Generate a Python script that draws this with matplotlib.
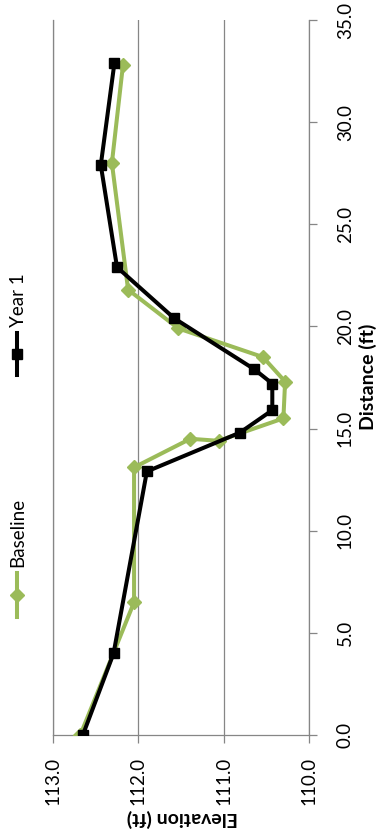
import matplotlib
matplotlib.use("Agg")
import matplotlib.pyplot as plt
from matplotlib.lines import Line2D

plt.rcParams['font.family'] = ['Lato', 'DejaVu Sans']

# Data (distance ft, elevation ft)
baseline_dist = [0.0, 6.5, 13.1, 14.5, 14.4, 15.5, 17.3, 18.5, 19.9, 21.8, 28.0, 32.8]
baseline_elev = [112.68, 112.05, 112.05, 111.39, 111.06, 110.30, 110.28, 110.54, 111.53, 112.12, 112.31, 112.18]
year1_dist = [0.0, 4.0, 12.9, 14.8, 15.9, 17.2, 17.9, 20.4, 22.9, 27.9, 32.9]
year1_elev = [112.65, 112.29, 111.90, 110.81, 110.43, 110.43, 110.64, 111.58, 112.25, 112.44, 112.28]
series_names = ["Baseline", "Year 1"]
dist_ticks = [0, 5, 10, 15, 20, 25, 30, 35]
elev_ticks = [113, 112, 111, 110]

GREEN = "#9BBB59"
GRID = "#868686"
W, H = 380, 840

fig = plt.figure(figsize=(W / 100, H / 100), dpi=100)
ax = fig.add_axes([53 / W, 105 / H, 256 / W, 715 / H])

ax.plot(baseline_elev, baseline_dist, color=GREEN, lw=2.9, marker='D', ms=6.8,
        mec=GREEN, mfc=GREEN, zorder=3, solid_joinstyle='round')
ax.plot(year1_elev, year1_dist, color='black', lw=2.9, marker='s', ms=7.6,
        mec='black', mfc='black', zorder=4, solid_joinstyle='round')

ax.set_xlim(113, 110)
ax.set_ylim(0, 35)
ax.set_xticks(elev_ticks)
ax.set_xticklabels([f"{v:.1f}" for v in elev_ticks])
ax.set_yticks(dist_ticks)
ax.set_yticklabels([f"{v:.1f}" for v in dist_ticks])

ax.yaxis.tick_right()
ax.tick_params(axis='y', which='both', direction='out', length=6, width=0.9, color=GRID,
               labelrotation=90, labelsize=13.5, pad=14)
ax.tick_params(axis='x', which='both', direction='out', length=6, width=0.9, color=GRID,
               labelrotation=90, labelsize=13.5, pad=10)
for lab in ax.get_yticklabels():
    lab.set_verticalalignment('center')

ax.grid(axis='x', color=GRID, lw=0.9)
ax.grid(axis='y', visible=False)
ax.set_axisbelow(True)
for side in ['top']:
    ax.spines[side].set_visible(False)
for side in ['bottom', 'right', 'left']:
    ax.spines[side].set_color(GRID)
    ax.spines[side].set_linewidth(0.9)

# Axis titles (rotated layout)
fig.text(182 / W, 1 - 818 / H, "Elevation (ft)", rotation=180, ha='center', va='center',
         fontsize=14, fontweight='bold')
fig.text(368 / W, 1 - 377 / H, "Distance (ft)", rotation=90, ha='center', va='center',
         fontsize=14, fontweight='bold')

# Legend (rotated)
def legend_item(xc, y_lo, y_hi, color, marker, ms, label):
    fig.add_artist(Line2D([xc / W, xc / W], [1 - y_lo / H, 1 - y_hi / H],
                          transform=fig.transFigure, color=color, lw=2.9))
    ym = (y_lo + y_hi) / 2
    fig.add_artist(Line2D([xc / W], [1 - ym / H], transform=fig.transFigure,
                          color=color, marker=marker, ms=ms, mec=color, mfc=color, lw=0))
    fig.text((xc + 1) / W, 1 - (y_hi - 6) / H, label, rotation=90, ha='center', va='bottom',
             fontsize=13.5)

legend_item(17, 617, 573, GREEN, 'D', 6.8, series_names[0])
legend_item(17, 375, 333, 'black', 's', 7.6, series_names[1])

fig.savefig("out.png", dpi=100)
